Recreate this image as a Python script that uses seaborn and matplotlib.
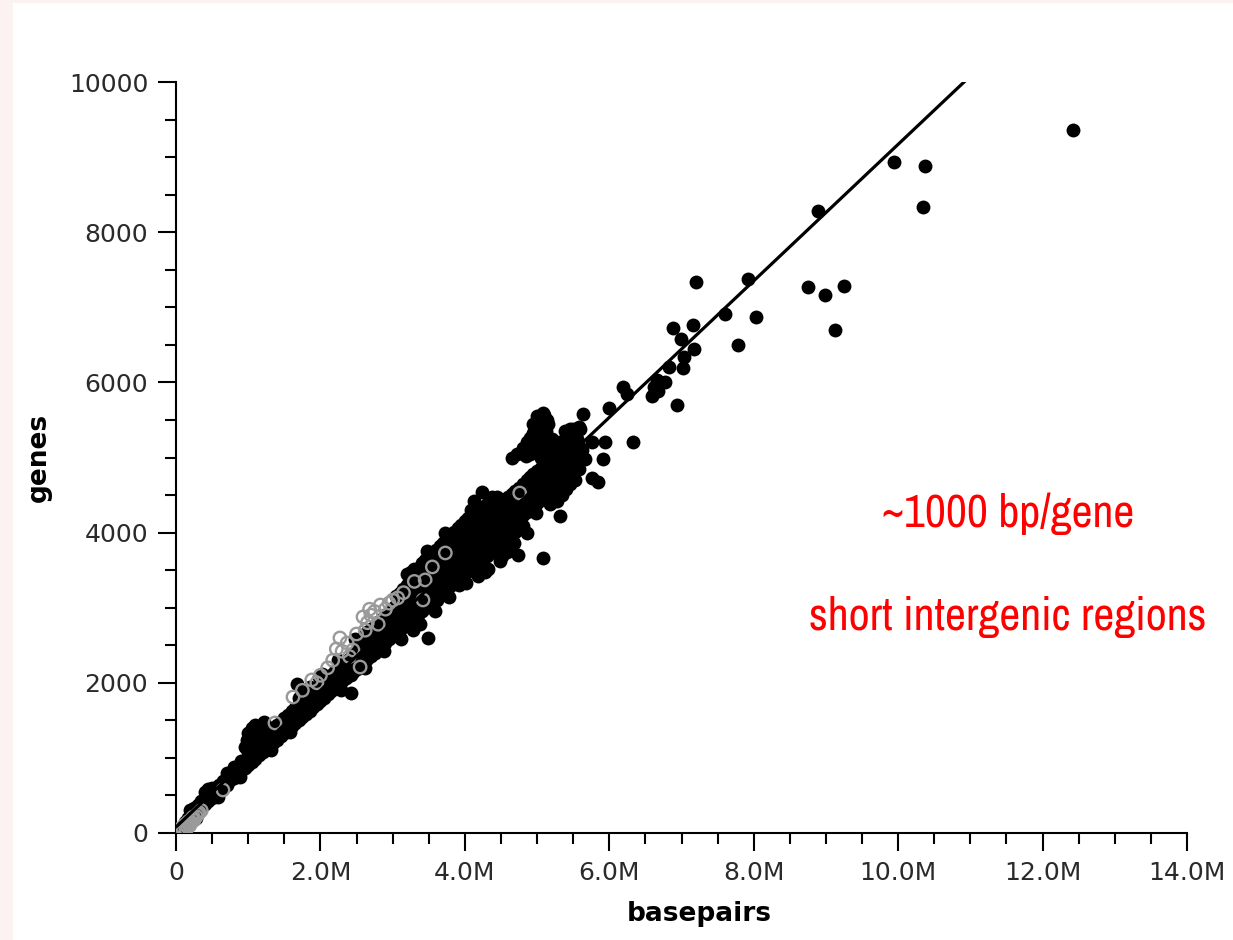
import matplotlib
matplotlib.use("Agg")
import matplotlib.pyplot as plt
import matplotlib.ticker as mticker
from matplotlib.patches import Rectangle
from matplotlib import font_manager
import numpy as np
import pandas as pd
import seaborn as sns

# ---- genome size (Mb) vs. gene count, filled = bacteria ----
bacteria_mb = [
    0.12, 0.16, 0.20, 0.20, 0.25, 0.25, 0.30, 0.30, 0.35, 0.35,
    0.40, 0.40, 0.40, 0.45, 0.45, 0.45, 0.50, 0.50, 0.50, 0.55, 0.55,
    0.60, 0.60, 0.65, 0.65, 0.70, 0.70, 0.70, 0.75, 0.75, 0.80, 0.80, 0.80,
    0.85, 0.85, 0.90, 0.90, 0.90, 0.95, 0.95, 0.95,
    1.00, 1.00, 1.00, 1.00, 1.00, 1.05, 1.05, 1.05, 1.05, 1.05,
    1.10, 1.10, 1.10, 1.10, 1.10, 1.15, 1.15, 1.15, 1.15,
    1.20, 1.20, 1.20, 1.20, 1.25, 1.25, 1.25, 1.25, 1.30, 1.30, 1.30,
    1.35, 1.35, 1.35, 1.40, 1.40, 1.40, 1.45, 1.45, 1.45,
    1.50, 1.50, 1.50, 1.55, 1.55, 1.55, 1.60, 1.60, 1.60, 1.65, 1.65, 1.65,
    1.70, 1.70, 1.70, 1.70, 1.75, 1.75, 1.75, 1.75, 1.80, 1.80, 1.80, 1.80,
    1.85, 1.85, 1.85, 1.85, 1.90, 1.90, 1.90, 1.95, 1.95, 1.95,
    2.00, 2.00, 2.00, 2.05, 2.05, 2.05, 2.10, 2.10, 2.10, 2.15, 2.15, 2.15,
    2.20, 2.20, 2.20, 2.25, 2.25, 2.25, 2.25, 2.30, 2.30, 2.30,
    2.35, 2.35, 2.35, 2.42, 2.42, 2.42, 2.42, 2.45, 2.45, 2.45,
    2.50, 2.50, 2.50, 2.55, 2.55, 2.55, 2.60, 2.60, 2.60, 2.60,
    2.65, 2.65, 2.65, 2.65, 2.70, 2.70, 2.70, 2.70, 2.75, 2.75, 2.75, 2.75,
    2.80, 2.80, 2.80, 2.80, 2.85, 2.85, 2.85, 2.85, 2.90, 2.90, 2.90, 2.90,
    2.95, 2.95, 2.95, 2.95, 3.00, 3.00, 3.00, 3.00,
    3.05, 3.05, 3.05, 3.05, 3.05, 3.10, 3.10, 3.10, 3.10, 3.10,
    3.15, 3.15, 3.15, 3.15, 3.15, 3.20, 3.20, 3.20, 3.20, 3.20, 3.20,
    3.25, 3.25, 3.25, 3.25, 3.25, 3.25, 3.30, 3.30, 3.30, 3.30, 3.30, 3.30,
    3.35, 3.35, 3.35, 3.35, 3.35, 3.40, 3.40, 3.40, 3.40, 3.40, 3.40,
    3.45, 3.45, 3.45, 3.45, 3.45, 3.45, 3.49, 3.49, 3.49, 3.49, 3.49, 3.49,
    3.55, 3.55, 3.55, 3.55, 3.55, 3.55, 3.60, 3.60, 3.60, 3.60, 3.60, 3.60,
    3.65, 3.65, 3.65, 3.65, 3.65, 3.65, 3.70, 3.70, 3.70, 3.70, 3.70, 3.70,
    3.75, 3.75, 3.75, 3.75, 3.75, 3.75, 3.80, 3.80, 3.80, 3.80, 3.80, 3.80,
    3.85, 3.85, 3.85, 3.85, 3.85, 3.85, 3.90, 3.90, 3.90, 3.90, 3.90, 3.90,
    3.95, 3.95, 3.95, 3.95, 3.95, 3.95, 4.00, 4.00, 4.00, 4.00, 4.00, 4.00,
    4.05, 4.05, 4.05, 4.05, 4.05, 4.05, 4.10, 4.10, 4.10, 4.10, 4.10, 4.10,
    4.15, 4.15, 4.15, 4.15, 4.15, 4.15, 4.20, 4.20, 4.20, 4.20, 4.20, 4.20,
    4.24, 4.25, 4.25, 4.25, 4.25, 4.25, 4.25, 4.28,
    4.30, 4.30, 4.30, 4.30, 4.30, 4.30, 4.35, 4.35, 4.35, 4.35, 4.35, 4.35,
    4.40, 4.40, 4.40, 4.40, 4.40, 4.40, 4.45, 4.45, 4.45, 4.45, 4.45, 4.45,
    4.50, 4.50, 4.50, 4.50, 4.50, 4.55, 4.55, 4.55, 4.55, 4.55,
    4.60, 4.60, 4.60, 4.60, 4.60, 4.65, 4.65, 4.65, 4.65, 4.65, 4.65,
    4.70, 4.70, 4.70, 4.70, 4.70, 4.72, 4.74, 4.75, 4.75, 4.75, 4.75, 4.75,
    4.80, 4.80, 4.80, 4.80, 4.80, 4.80, 4.86, 4.86, 4.86, 4.86, 4.86, 4.86,
    4.90, 4.90, 4.90, 4.90, 4.90, 4.90, 4.95, 4.95, 4.95, 4.95, 4.95, 4.95,
    5.00, 5.00, 5.00, 5.00, 5.00, 5.00, 5.00, 5.05, 5.05, 5.05, 5.05, 5.05, 5.05, 5.05,
    5.08, 5.08, 5.10, 5.10, 5.10, 5.10, 5.10, 5.10, 5.10,
    5.15, 5.15, 5.15, 5.15, 5.15, 5.15, 5.20, 5.20, 5.20, 5.20, 5.20, 5.20,
    5.25, 5.25, 5.25, 5.25, 5.25, 5.32, 5.32, 5.32, 5.32, 5.32, 5.32,
    5.38, 5.38, 5.38, 5.38, 5.38, 5.42, 5.42, 5.42, 5.42, 5.45,
    5.50, 5.50, 5.50, 5.50, 5.58, 5.58, 5.58, 5.58, 5.64,
    5.76, 5.76, 5.84, 5.91, 5.94, 6.00, 6.19, 6.25, 6.33,
    6.59, 6.62, 6.66, 6.68, 6.77, 6.83, 6.88, 6.94, 6.99, 7.02, 7.04,
    7.16, 7.17, 7.20, 7.60, 7.78, 7.92, 8.03,
    8.75, 8.89, 8.99, 9.13, 9.25, 9.94, 10.35, 10.37, 12.42,
    # scattered genomes along the edges of the main band
    0.08, 0.28, 0.58, 0.88, 1.32, 1.58, 1.68, 1.98, 2.28, 2.62, 2.88,
    3.12, 3.28, 3.38, 3.58, 3.62, 3.78, 3.92, 4.02, 4.08, 4.18, 4.32,
    4.38, 4.48, 4.52, 4.58, 4.62, 4.68, 4.98, 5.18, 5.28, 5.35, 5.40,
    5.46, 5.52, 5.55, 3.72, 4.12, 3.48, 2.48, 2.02, 1.22, 0.98,
    # the group of gene-dense genomes near 5 Mb
    4.92, 4.95, 5.00, 5.02, 5.05, 4.98, 5.12, 5.14, 5.06, 4.84,
    5.45, 5.55, 5.62, 5.60, 5.50, 5.66,
]
bacteria_genes = [
    150, 200, 230, 300, 260, 330, 300, 370, 340, 420,
    390, 470, 540, 430, 500, 580, 470, 560, 600, 520, 590,
    560, 640, 600, 690, 640, 730, 800, 700, 780, 730, 820, 880,
    780, 870, 820, 900, 960, 860, 950, 1150,
    900, 1000, 1080, 1230, 1330, 940, 1050, 1150, 1280, 1400,
    990, 1090, 1200, 1330, 1440, 1040, 1140, 1250, 1360,
    1080, 1180, 1290, 1400, 1120, 1220, 1330, 1420, 1160, 1260, 1360,
    1200, 1300, 1400, 1240, 1340, 1440, 1290, 1390, 1480,
    1330, 1430, 1530, 1380, 1470, 1570, 1420, 1520, 1620, 1460, 1560, 1670,
    1500, 1610, 1720, 1800, 1540, 1650, 1760, 1860, 1590, 1700, 1800, 1900,
    1630, 1740, 1840, 1950, 1680, 1780, 1880, 1720, 1830, 1930,
    1760, 1870, 1970, 1800, 1910, 2020, 1850, 1960, 2060, 1890, 2000, 2110,
    1940, 2050, 2160, 1980, 2090, 2200, 2300, 2020, 2130, 2240,
    2070, 2180, 2290, 1860, 2110, 2230, 2340, 2150, 2270, 2380,
    2190, 2310, 2420, 2230, 2350, 2470, 2270, 2390, 2510, 2620,
    2320, 2440, 2560, 2680, 2360, 2480, 2600, 2720, 2400, 2520, 2640, 2760,
    2450, 2570, 2690, 2810, 2490, 2610, 2730, 2850, 2530, 2650, 2780, 2900,
    2580, 2700, 2820, 2940, 2620, 2740, 2860, 2990,
    2650, 2780, 2900, 3030, 3150, 2700, 2820, 2950, 3080, 3200,
    2740, 2870, 2990, 3120, 3250, 2780, 2910, 3040, 3170, 3300, 3450,
    2820, 2950, 3080, 3210, 3340, 3480, 2860, 2990, 3120, 3250, 3380, 3520,
    2900, 3040, 3170, 3300, 3430, 2950, 3080, 3210, 3340, 3470, 3600,
    2990, 3120, 3250, 3380, 3510, 3640, 2600, 3030, 3160, 3290, 3420, 3550,
    3080, 3210, 3340, 3470, 3600, 3730, 3120, 3250, 3380, 3510, 3640, 3770,
    3160, 3290, 3420, 3560, 3690, 3820, 3200, 3340, 3470, 3600, 3730, 3860,
    3250, 3380, 3510, 3650, 3780, 3910, 3290, 3420, 3560, 3690, 3820, 3960,
    3330, 3460, 3600, 3740, 3870, 4010, 3370, 3510, 3650, 3780, 3920, 4060,
    3410, 3550, 3690, 3830, 3960, 4100, 3450, 3590, 3730, 3870, 4010, 4150,
    3490, 3630, 3770, 3910, 4050, 4190, 3530, 3670, 3810, 3950, 4090, 4230,
    3570, 3710, 3850, 3990, 4130, 4260, 3610, 3750, 3890, 4030, 4170, 4300,
    4540, 3650, 3790, 3930, 4070, 4210, 4340, 3475,
    3690, 3830, 3970, 4110, 4250, 4380, 3730, 3870, 4010, 4150, 4290, 4410,
    3770, 3910, 4050, 4190, 4330, 4440, 3810, 3950, 4090, 4230, 4370, 4470,
    3850, 3990, 4130, 4270, 4400, 3890, 4030, 4170, 4310, 4430,
    3930, 4070, 4210, 4350, 4470, 3970, 4110, 4250, 4390, 4510, 5000,
    4010, 4150, 4290, 4430, 4560, 5050, 3700, 4050, 4190, 4330, 4470, 4600,
    4090, 4230, 4370, 4510, 4650, 5120, 3995, 4280, 4420, 4560, 4700, 5200,
    4320, 4460, 4600, 4740, 5050, 5260, 4360, 4500, 4640, 4780, 5150, 5320,
    4400, 4540, 4680, 4820, 5200, 5350, 5450, 4440, 4580, 4720, 4860, 5250, 5400, 5530,
    3662, 5590, 4480, 4620, 4760, 4900, 5300, 5450, 5570,
    4520, 4660, 4800, 4940, 5080, 5450, 4560, 4700, 4840, 4980, 5120, 5250,
    4600, 4740, 4880, 5020, 5160, 4221, 4650, 4790, 4930, 5070, 5200,
    4700, 4840, 4980, 5120, 5350, 4750, 4870, 5000, 5100, 5380,
    4800, 4950, 5100, 5380, 4850, 5050, 5150, 5400, 5580,
    5206, 4727, 4674, 4980, 5206, 5659, 5939, 5845, 5206,
    5819, 5939, 6032, 5880, 6005, 6205, 6724, 5699, 6578, 6192, 6338,
    6764, 6445, 7337, 6911, 6498, 7377, 6871,
    7270, 8282, 7164, 6698, 7284, 8935, 8336, 8881, 9361,
    60, 200, 480, 740, 1110, 1350, 1980, 2080, 1900, 2200, 2420,
    2580, 2700, 2780, 2950, 3100, 3140, 3300, 3330, 4300, 3420, 3520,
    4480, 3620, 3690, 3740, 3800, 3860, 4260, 4380, 4420, 4500, 4580,
    4650, 4700, 5230, 4000, 4420, 3760, 2580, 2120, 1480, 1240,
    5150, 5450, 5550, 5300, 5150, 5100, 5350, 5500, 5000, 5020,
    5300, 5250, 5100, 5380, 5200, 4980,
]

# ---- open circles = archaea ----
archaea_mb = [
    0.05, 0.08, 0.10, 0.12, 0.15, 0.17, 0.20, 0.22, 0.24, 0.25, 0.28, 0.30,
    0.35, 0.65, 1.37, 1.62, 1.88, 1.95, 2.00, 2.10, 2.17, 2.27, 2.30, 2.37,
    2.40, 2.45, 2.50, 2.55, 2.59, 2.62, 2.65, 2.70, 2.75, 2.80, 2.83, 2.90,
    3.00, 3.07, 3.15, 3.30, 3.42, 3.45, 3.55, 3.73, 4.76,
    0.03, 0.06, 0.14, 0.19, 0.32, 1.75, 2.22, 2.68, 2.95,
]
archaea_genes = [
    50, 70, 60, 110, 90, 150, 140, 190, 213, 170, 220, 250,
    300, 573, 1465, 1811, 2038, 2000, 2100, 2200, 2300, 2597, 2420, 2530,
    2350, 2437, 2650, 2210, 2877, 2700, 2800, 2900, 2950, 2780, 3036, 2980,
    3100, 3130, 3200, 3350, 3103, 3370, 3543, 3729, 4527,
    20, 30, 40, 100, 270, 1900, 2450, 2980, 3060,
]

# ---- least-squares trend: genes = intercept + slope * bp ----
fit_intercept = 80.0
fit_slope_per_mb = 909.0
fit_range_mb = [0.0, 11.5]

x_ticks_mb = [0, 2, 4, 6, 8, 10, 12, 14]
y_ticks = [0, 2000, 4000, 6000, 8000, 10000]

bacteria = pd.DataFrame({"bp": np.array(bacteria_mb) * 1e6, "genes": bacteria_genes})
archaea = pd.DataFrame({"bp": np.array(archaea_mb) * 1e6, "genes": archaea_genes})
trend = pd.DataFrame({"bp": np.array(fit_range_mb) * 1e6,
                      "genes": fit_intercept + fit_slope_per_mb * np.array(fit_range_mb)})

sns.set_theme(style="white")
plt.rcParams["font.family"] = ["DejaVu Sans"]

W, H = 1233, 940
fig = plt.figure(figsize=(W / 100, H / 100), dpi=100, facecolor="#fdf2f2")
fig.patches.append(Rectangle((13 / W, 0), 1, 1 - 3 / H, transform=fig.transFigure,
                             facecolor="white", edgecolor="none", zorder=-10))
ax = fig.add_axes([176 / W, (H - 833) / H, (1187 - 176) / W, (833 - 82) / H])
ax.set_facecolor("none")
ax.set_zorder(1)

sns.scatterplot(data=bacteria, x="bp", y="genes", ax=ax, color="black",
                s=100, linewidth=0, zorder=2, legend=False)
sns.scatterplot(data=archaea, x="bp", y="genes", ax=ax, marker="o",
                s=80, linewidth=1.7, zorder=3, legend=False)
ax.collections[-1].set_facecolor("none")
ax.collections[-1].set_edgecolor("#9a9a9a")
sns.lineplot(data=trend, x="bp", y="genes", ax=ax, color="black",
             linewidth=2.3, zorder=4)

ax.set_xlim(0, 14e6)
ax.set_ylim(0, 10000)
ax.set_xticks([v * 1e6 for v in x_ticks_mb])
ax.set_yticks(y_ticks)
ax.xaxis.set_major_formatter(mticker.FuncFormatter(
    lambda v, p: "0" if v == 0 else f"{v / 1e6:.1f}M"))
ax.xaxis.set_minor_locator(mticker.MultipleLocator(0.5e6))
ax.yaxis.set_minor_locator(mticker.MultipleLocator(500))

for side in ("top", "right"):
    ax.spines[side].set_visible(False)
for side in ("left", "bottom"):
    ax.spines[side].set_color("black")
    ax.spines[side].set_linewidth(1.5)

ax.tick_params(axis="both", which="major", direction="out", length=13, width=1.5,
               color="black", labelsize=18, labelcolor="#2a2a2a", pad=7,
               bottom=True, left=True)
ax.tick_params(axis="both", which="minor", direction="out", length=8, width=1.5,
               color="black", bottom=True, left=True)

ax.set_xlabel("basepairs", fontsize=19, fontweight="bold", color="black")
ax.set_ylabel("genes", fontsize=19, fontweight="bold", color="black")
ax.xaxis.set_label_coords((699 - 176) / (1187 - 176), (833 - 901) / (833 - 82))
ax.yaxis.set_label_coords((52 - 176) / (1187 - 176), 0.5)

names = {f.name for f in font_manager.fontManager.ttflist}
if "Liberation Sans Narrow" in names:
    red_family = "Liberation Sans Narrow"
else:
    narrow = [n for n in sorted(names) if "Narrow" in n or "Condensed" in n]
    red_family = narrow[0] if narrow else "Liberation Sans"
red_size = 33 if red_family != "Liberation Sans" else 28
fig.text(1008 / W, 1 - 527 / H, "~1000 bp/gene", color="#ff0000", fontsize=red_size,
         family=red_family, ha="center", va="baseline")
fig.text(1008 / W, 1 - 630 / H, "short intergenic regions", color="#ff0000",
         fontsize=red_size, family=red_family, ha="center", va="baseline")

fig.savefig("out.png", dpi=100, facecolor=fig.get_facecolor())
